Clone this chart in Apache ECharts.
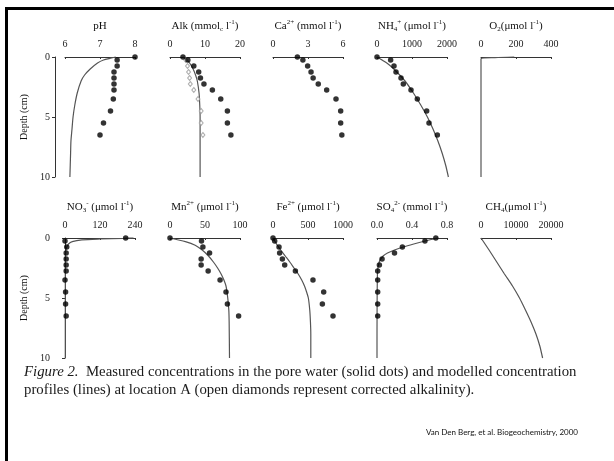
<!DOCTYPE html>
<html><head><meta charset="utf-8">
<script src="https://cdn.jsdelivr.net/npm/echarts@6/dist/echarts.min.js"></script>
<style>html,body{margin:0;padding:0;background:#fff}#c{width:614px;height:461px}</style>
</head><body><div id="c"></div>
<script>
// measured sample depths (cm)
const sampleDepths = [0, 0.25, 0.75, 1.25, 1.75, 2.25, 2.75, 3.5, 4.5, 5.5, 6.5];
const diamondDepths = [0.25, 0.75, 1.25, 1.75, 2.25, 2.75, 3.5, 4.5, 5.5, 6.5];

// measured values (solid dots)
const phDots   = [8.0, 7.49, 7.49, 7.4, 7.4, 7.4, 7.4, 7.38, 7.3, 7.1, 7.0];
const alkDots  = [3.7, 5.1, 6.8, 8.2, 8.7, 9.7, 12.1, 14.5, 16.4, 16.4, 17.4];
const alkCorr  = [4.5, 5.0, 5.3, 5.6, 5.8, 6.8, 8.0, 8.9, 8.9, 9.4];
const caDots   = [2.09, 2.56, 2.97, 3.26, 3.44, 3.88, 4.6, 5.4, 5.8, 5.8, 5.9];
const nh4Dots  = [0, 390, 486, 543, 686, 752, 971, 1152, 1419, 1486, 1724];
const no3Dots  = [208, 0, 6, 4, 4, 4, 4, 0, 2, 2, 4];
const mnDots   = [0, 45, 47, 56.5, 44.5, 44.5, 54.5, 71.5, 80, 82, 98];
const feDots   = [0, 24, 86, 95, 134, 167, 320, 571, 724, 705, 857];
const so4Dots  = [0.672, 0.548, 0.29, 0.2, 0.058, 0.027, 0.008, 0.008, 0.008, 0.008, 0.008];

// modelled profiles (lines)
const phLineDepth  = [0, 0.1, 0.25, 0.5, 1, 1.5, 2, 3, 4, 5, 6, 7, 8, 9, 10];
const phLineVal    = [7.45, 7.3, 7.1, 6.93, 6.72, 6.56, 6.46, 6.35, 6.28, 6.23, 6.2, 6.17, 6.16, 6.15, 6.14];
const alkLineDepth = [0, 0.25, 0.5, 1, 1.5, 2, 3, 4, 5, 6, 10];
const alkLineVal   = [3.7, 4.8, 5.6, 6.6, 7.3, 7.8, 8.3, 8.5, 8.6, 8.6, 8.6];
const nh4LineDepth = [0, 0.5, 1, 2, 3, 4, 5, 6, 7, 8, 9, 10];
const nh4LineVal   = [0, 280, 480, 800, 1040, 1250, 1440, 1600, 1740, 1860, 1960, 2040];
const o2LineDepth  = [0, 0.05, 0.15, 10];
const o2LineVal    = [190, 80, 0, 0];
const no3LineDepth = [0, 0.03, 0.08, 0.15, 0.3, 0.5, 0.8, 1.2, 2, 10];
const no3LineVal   = [235, 200, 120, 58, 25, 12, 5, 2, 1, 1];
const mnLineDepth  = [0, 0.3, 0.6, 1, 1.5, 2, 2.5, 3, 3.5, 4, 5, 6, 7, 10];
const mnLineVal    = [0, 22, 36, 46, 55, 62, 68, 73, 77, 80, 82.5, 84, 84.5, 85];
const feLineDepth  = [0, 0.5, 1, 1.5, 2, 2.5, 3, 3.5, 4, 4.5, 5, 6, 7, 8, 10];
const feLineVal    = [0, 50, 110, 175, 240, 300, 360, 410, 450, 480, 505, 525, 535, 540, 540];
const so4LineDepth = [0, 0.25, 0.5, 0.75, 1, 1.25, 1.5, 2, 3, 10];
const so4LineVal   = [0.7, 0.55, 0.42, 0.3, 0.2, 0.12, 0.07, 0.025, 0.005, 0];
const ch4LineDepth = [0, 1, 2, 3, 4, 5, 6, 7, 8, 9, 10];
const ch4LineVal   = [0, 2300, 4500, 6700, 9000, 11000, 12700, 14300, 15700, 16800, 17600];

// axis titles (rich text)
const titles = [
  '{n|pH}',
  '{n|Alk (mmol}{sub|c}{n| l}{sup|-1}{n|)}',
  '{n|Ca}{sup|2+}{n| (mmol l}{sup|-1}{n|)}',
  '{n|NH}{sub|4}{sup|+}{n| (μmol l}{sup|-1}{n|)}',
  '{n|O}{sub|2}{n|(μmol l}{sup|-1}{n|)}',
  '{n|NO}{sub|3}{sup|-}{n| (μmol l}{sup|-1}{n|)}',
  '{n|Mn}{sup|2+}{n| (μmol l}{sup|-1}{n|)}',
  '{n|Fe}{sup|2+}{n| (μmol l}{sup|-1}{n|)}',
  '{n|SO}{sub|4}{sup|2-}{n| (mmol l}{sup|-1}{n|)}',
  '{n|CH}{sub|4}{n|(μmol l}{sup|-1}{n|)}'
];
const depthTicks = [0, 5, 10];

const SERIF = '"Liberation Serif","Times New Roman",serif';
const pair = (vals, deps) => vals.map((v, k) => [v, deps[k]]);

const panels = [
  {min: 6, max: 8, interval: 1, dots: phDots, line: [phLineVal, phLineDepth]},
  {min: 0, max: 20, interval: 10, dots: alkDots, diamonds: alkCorr, line: [alkLineVal, alkLineDepth]},
  {min: 0, max: 6, interval: 3, dots: caDots},
  {min: 0, max: 2000, interval: 1000, dots: nh4Dots, line: [nh4LineVal, nh4LineDepth]},
  {min: 0, max: 400, interval: 200, line: [o2LineVal, o2LineDepth]},
  {min: 0, max: 240, interval: 120, dots: no3Dots, line: [no3LineVal, no3LineDepth]},
  {min: 0, max: 100, interval: 50, dots: mnDots, line: [mnLineVal, mnLineDepth]},
  {min: 0, max: 1000, interval: 500, dots: feDots, line: [feLineVal, feLineDepth]},
  {min: 0, max: 0.8, interval: 0.4, dots: so4Dots, line: [so4LineVal, so4LineDepth], fmt: v => v.toFixed(1)},
  {min: 0, max: 20000, interval: 10000, line: [ch4LineVal, ch4LineDepth]}
];
const lefts = [65, 170, 273, 377, 481];
const tops = [57, 238];

const rich = {
  n: {fontFamily: SERIF, fontSize: 11, color: '#111', lineHeight: 14},
  sup: {fontFamily: SERIF, fontSize: 7, color: '#111', lineHeight: 8, verticalAlign: 'top'},
  sub: {fontFamily: SERIF, fontSize: 7, color: '#111', lineHeight: 8, verticalAlign: 'bottom'}
};

const grid = [], xAxis = [], yAxis = [], series = [];
panels.forEach((p, i) => {
  const row = i < 5 ? 0 : 1, col = i % 5;
  grid.push({left: lefts[col], top: tops[row], width: 70, height: 120});
  xAxis.push({
    type: 'value', gridIndex: i, position: 'top', min: p.min, max: p.max, interval: p.interval,
    axisLine: {show: true, lineStyle: {color: '#333', width: 1}},
    axisTick: {show: true, inside: true, length: 2, lineStyle: {color: '#333'}},
    axisLabel: {margin: 8, fontSize: 10, fontFamily: SERIF, color: '#222', formatter: p.fmt || (v => String(v))},
    splitLine: {show: false},
    name: titles[i], nameLocation: 'middle', nameGap: 24,
    nameTextStyle: {rich: rich}
  });
  const showDepth = col === 0;
  yAxis.push({
    type: 'value', gridIndex: i, inverse: true, min: 0, max: 10, interval: 5,
    show: showDepth, position: 'left', offset: 10,
    axisLine: {show: true, lineStyle: {color: '#333', width: 1}},
    axisTick: {show: true, length: 3, lineStyle: {color: '#333'}},
    axisLabel: {margin: 5, fontSize: 10, fontFamily: SERIF, color: '#222',
      formatter: v => depthTicks.indexOf(v) >= 0 ? String(v) : ''},
    splitLine: {show: false},
    name: 'Depth (cm)', nameLocation: 'middle', nameGap: 26, nameRotate: 90,
    nameTextStyle: {fontFamily: SERIF, fontSize: 10, color: '#111'}
  });
  if (p.line) {
    series.push({
      type: 'line', xAxisIndex: i, yAxisIndex: i, data: pair(p.line[0], p.line[1]),
      showSymbol: false, smooth: 0.25, clip: false, z: 2,
      lineStyle: {color: '#555', width: 1.2}
    });
  }
  if (p.diamonds) {
    series.push({
      type: 'scatter', xAxisIndex: i, yAxisIndex: i, data: pair(p.diamonds, diamondDepths),
      symbol: 'diamond', symbolSize: [4, 5], clip: false, z: 3,
      itemStyle: {color: '#fff', borderColor: '#999', borderWidth: 1}
    });
  }
  if (p.dots) {
    series.push({
      type: 'scatter', xAxisIndex: i, yAxisIndex: i, data: pair(p.dots, sampleDepths),
      symbol: 'circle', symbolSize: 5.5, clip: false, z: 4,
      itemStyle: {color: '#000'}
    });
  }
});

const chart = echarts.init(document.getElementById('c'));
chart.setOption({
  animation: false,
  backgroundColor: '#fff',
  grid, xAxis, yAxis, series,
  graphic: [
    {type: 'rect', shape: {x: 5, y: 7, width: 609, height: 3}, style: {fill: '#000'}},
    {type: 'rect', shape: {x: 5, y: 7, width: 3, height: 454}, style: {fill: '#000'}},
    {type: 'text', left: 24, top: 363, style: {
      text: '{i|Figure 2.}  Measured concentrations in the pore water (solid dots) and modelled concentration\nprofiles (lines) at location A (open diamonds represent corrected alkalinity).',
      font: '14.8px ' + SERIF, fill: '#1a1a1a', lineHeight: 18,
      rich: {i: {fontStyle: 'italic', fontFamily: SERIF, fontSize: 14.8, fill: '#1a1a1a'}}
    }},
    {type: 'text', right: 36, top: 428, style: {
      text: 'Van Den Berg, et al. Biogeochemistry, 2000',
      font: '8px Lato, "Liberation Sans", sans-serif', fill: '#111'
    }}
  ]
});
</script>
</body></html>
